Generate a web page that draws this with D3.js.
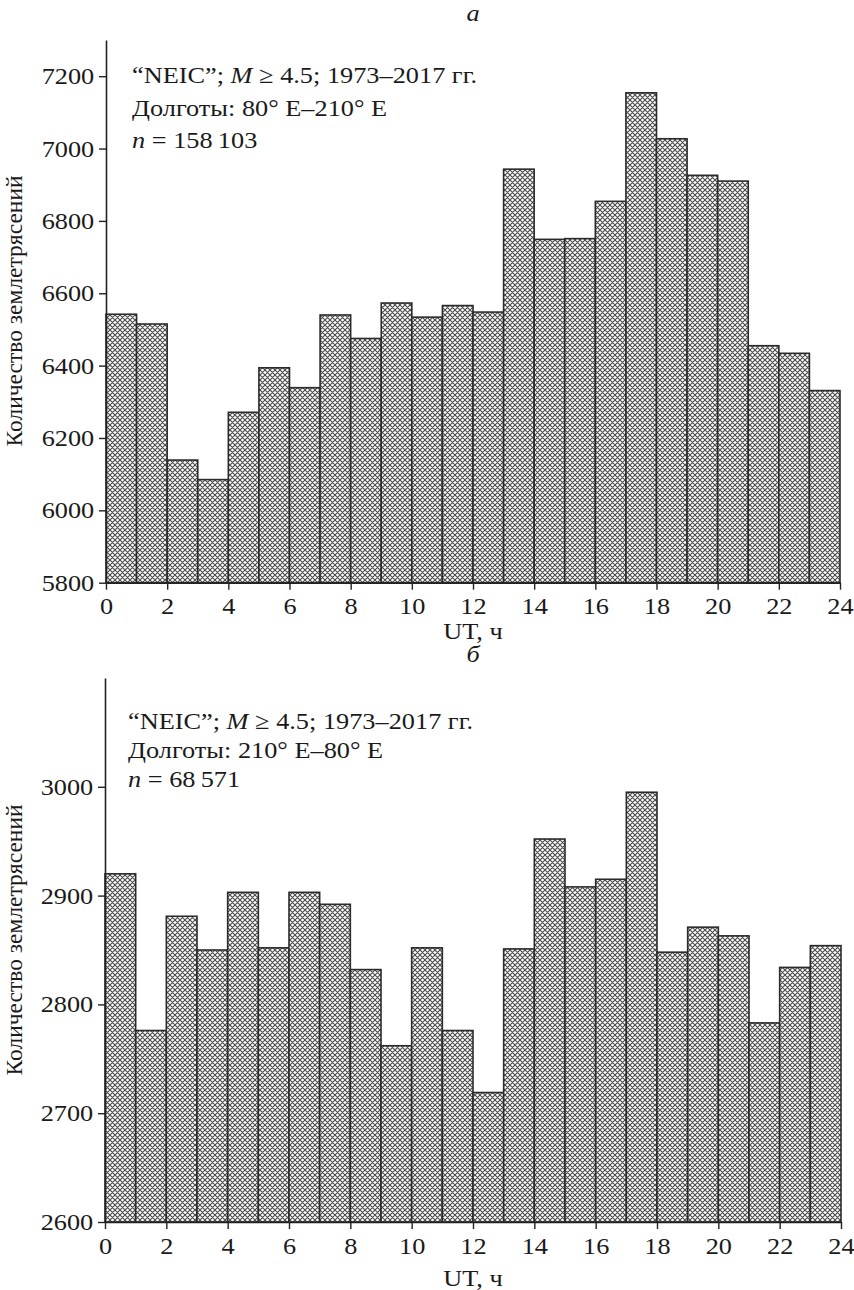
<!DOCTYPE html>
<html>
<head>
<meta charset="utf-8">
<script src="https://cdn.jsdelivr.net/npm/d3@7"></script>
<style>
  body { margin: 0; background: #fff; }
  svg text { font-family: "Liberation Serif", "Times New Roman", serif; fill: #1a1a1a; }
</style>
</head>
<body>
<svg id="chart" width="854" height="1290"></svg>
<script>
// hourly bins 0..24 UT
const hours = d3.range(0, 24);
const xTicks = d3.range(0, 25, 2);

// panel a: longitudes 80E-210E
const countsA = [6542, 6515, 6139, 6085, 6271, 6394, 6339, 6540, 6475, 6573, 6534, 6566,
                 6548, 6943, 6749, 6751, 6854, 7154, 7027, 6926, 6910, 6455, 6434, 6331];
const yTicksA = [5800, 6000, 6200, 6400, 6600, 6800, 7000, 7200];
const notesA = ["Долготы: 80° E–210° E", "158\u2009103"];

// panel b: longitudes 210E-80E
const countsB = [2920, 2776, 2881, 2850, 2903, 2852, 2903, 2892, 2832, 2762, 2852, 2776,
                 2719, 2851, 2952, 2908, 2915, 2995, 2848, 2871, 2863, 2783, 2834, 2854];
const yTicksB = [2600, 2700, 2800, 2900, 3000];
const notesB = ["Долготы: 210° E–80° E", "68\u2009571"];

const SX = 1.12;   // glyphs in the source are a bit wide
const FS = 23.5;

const svg = d3.select("#chart");

// crosshatch fill
const pat = svg.append("defs").append("pattern")
  .attr("id", "hatch")
  .attr("patternUnits", "userSpaceOnUse")
  .attr("width", 5).attr("height", 5);
pat.append("rect").attr("width", 5).attr("height", 5).attr("fill", "#fff");
pat.append("path")
  .attr("d", "M0,0L5,5M5,0L0,5M-1,1L1,-1M4,6L6,4M-1,4L1,6M4,-1L6,1")
  .attr("stroke", "#4a4a4a")
  .attr("stroke-width", 1.1);

function txt(parent, x, y, anchor) {
  return parent.append("text")
    .attr("transform", `translate(${x},${y}) scale(${SX},1)`)
    .attr("text-anchor", anchor || "start")
    .style("font-size", FS + "px");
}

function panel(opt) {
  const g = svg.append("g");
  const x = d3.scaleLinear().domain([0, 24]).range([opt.left, opt.right]);
  const y = d3.scaleLinear().domain(opt.yDomain).range([opt.bottom, opt.top]);

  // bars
  g.selectAll("rect.bar")
    .data(hours)
    .enter()
    .append("rect")
    .attr("class", "bar")
    .attr("x", d => x(d))
    .attr("width", d => x(d + 1) - x(d))
    .attr("y", d => y(opt.counts[d]))
    .attr("height", d => y(opt.yDomain[0]) - y(opt.counts[d]))
    .attr("fill", "url(#hatch)")
    .attr("stroke", "#2b2b2b")
    .attr("stroke-width", 1.6);

  // axes
  const ya = g.append("g")
    .attr("transform", `translate(${opt.left},0)`)
    .call(d3.axisLeft(y).tickValues(opt.yTicks).tickFormat(d3.format("d"))
      .tickSize(7).tickSizeOuter(0).tickPadding(3.5));
  const xa = g.append("g")
    .attr("transform", `translate(0,${opt.bottom})`)
    .call(d3.axisBottom(x).tickValues(xTicks).tickFormat(d3.format("d"))
      .tickSize(7).tickSizeOuter(0).tickPadding(8));
  [ya, xa].forEach(a => {
    a.select(".domain").attr("stroke", "#222").attr("stroke-width", 1.6);
    a.selectAll(".tick line").attr("stroke", "#222").attr("stroke-width", 1.4);
    a.selectAll(".tick text")
      .attr("fill", "#1a1a1a")
      .style("font-family", "'Liberation Serif', serif")
      .style("font-size", FS + "px")
      .attr("transform", `scale(${SX},1)`);
  });

  // panel letter
  txt(g, (opt.left + opt.right) / 2, opt.letterY, "middle")
    .style("font-style", "italic")
    .text(opt.letter);

  // axis titles
  txt(g, (opt.left + opt.right) / 2, opt.xLabelY, "middle").text("UT, ч");
  g.append("text")
    .attr("transform", `translate(22,${opt.yLabelMid}) rotate(-90)`)
    .attr("text-anchor", "middle")
    .style("font-size", FS + "px")
    .text("Количество землетрясений");

  // notes
  const t1 = txt(g, opt.noteX, opt.noteY[0]);
  t1.append("tspan").text("“NEIC”; ");
  t1.append("tspan").style("font-style", "italic").text("M");
  t1.append("tspan").text(" ≥ 4.5; 1973–2017 гг.");
  txt(g, opt.noteX, opt.noteY[1]).text(opt.notes[0]);
  const t3 = txt(g, opt.noteX, opt.noteY[2]);
  t3.append("tspan").style("font-style", "italic").text("n");
  t3.append("tspan").text(" = " + opt.notes[1]);
}

panel({
  counts: countsA, yTicks: yTicksA, yDomain: [5800, 7300], notes: notesA, letter: "а",
  left: 106, right: 840, top: 40, bottom: 582.7,
  letterY: 21, xLabelY: 639, yLabelMid: 311,
  noteX: 132, noteY: [83, 116, 148]
});

panel({
  counts: countsB, yTicks: yTicksB, yDomain: [2600, 3100], notes: notesB, letter: "б",
  left: 105, right: 841, top: 678, bottom: 1222,
  letterY: 662, xLabelY: 1286, yLabelMid: 940,
  noteX: 128, noteY: [729, 758, 787]
});
</script>
</body>
</html>
